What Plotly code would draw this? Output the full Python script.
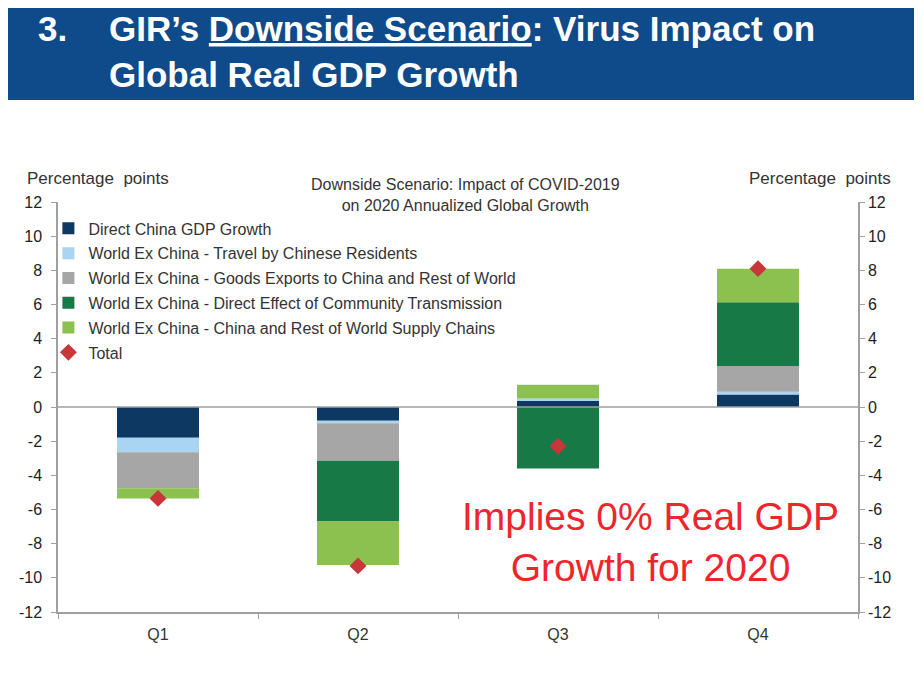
import plotly.graph_objects as go

# ---------- данные ----------
quarters = ["Q1", "Q2", "Q3", "Q4"]

direct_china = [-1.8, -0.8, 0.35, 0.73]
travel_chinese = [-0.85, -0.15, 0.15, 0.17]
goods_exports = [-2.1, -2.2, 0.0, 1.5]
community_transmission = [0.0, -3.55, -3.6, 3.73]
supply_chains = [-0.6, -2.55, 0.8, 1.97]
total = [-5.35, -9.3, -2.3, 8.1]

y_ticks = [-12, -10, -8, -6, -4, -2, 0, 2, 4, 6, 8, 10, 12]
y_tick_labels = ["-12", "-10", "-8", "-6", "-4", "-2", "0", "2", "4", "6", "8", "10", "12"]

series = [
    ("Direct China GDP Growth", direct_china, "#0c3862"),
    ("World Ex China - Travel by Chinese Residents", travel_chinese, "#a9d4f2"),
    ("World Ex China - Goods Exports to China and Rest of World", goods_exports, "#a6a6a6"),
    ("World Ex China - Direct Effect of Community Transmission", community_transmission, "#177a46"),
    ("World Ex China - China and Rest of World Supply Chains", supply_chains, "#8cc14f"),
]

FONT = "Liberation Sans, Arial, sans-serif"

fig = go.Figure()

for i, (name, vals, color) in enumerate(series):
    fig.add_trace(go.Bar(
        x=quarters, y=vals, name=name, marker_color=color,
        marker_line_width=0, legendgroup=f"g{i}",
    ))

fig.add_trace(go.Scatter(
    x=quarters, y=total, name="Total", mode="markers",
    marker=dict(symbol="diamond", size=13, color="#c8363a"),
    legendgroup="g9",
))

# невидимый след для правой оси
fig.add_trace(go.Scatter(
    x=quarters, y=total, yaxis="y2", mode="markers",
    marker=dict(opacity=0), showlegend=False, hoverinfo="skip",
))

axis_common = dict(
    range=[-12, 12], tickvals=y_ticks, ticktext=y_tick_labels,
    showgrid=False, zeroline=False,
    showline=True, linecolor="#a0a0a0", linewidth=1.5,
    ticks="outside", ticklen=5, tickcolor="#a0a0a0",
    tickfont=dict(family=FONT, size=16, color="#222"),
)

# страница рисуется со сдвигом 8px (margin у body) — поля подогнаны под это
fig.update_layout(
    width=922, height=678,
    paper_bgcolor="white", plot_bgcolor="white",
    margin=dict(l=50, r=72, t=194, b=74),
    barmode="relative", bargap=0.59,
    showlegend=True,
    legend=dict(
        x=-0.012, y=0.977, xanchor="left", yanchor="top",
        traceorder="grouped", tracegroupgap=1,
        font=dict(family=FONT, size=16, color="#333"),
        bgcolor="rgba(0,0,0,0)", itemwidth=30,
    ),
    xaxis=dict(
        showgrid=False, showline=True, linecolor="#a0a0a0", linewidth=1.5,
        ticks="outside", tickson="boundaries", ticklen=5, tickcolor="#a0a0a0",
        tickfont=dict(family=FONT, size=16, color="#333"), ticklabelstandoff=7,
    ),
    yaxis=dict(**axis_common, side="left", ticklabelstandoff=6),
    yaxis2=dict(**axis_common, side="right", overlaying="y"),
    shapes=[
        # шапка
        dict(type="rect", xref="paper", yref="paper",
             x0=-0.066, x1=1.071, y0=1.249, y1=1.493,
             fillcolor="#0f4a8a", line_width=0, layer="below"),
        # нулевая линия
        dict(type="line", xref="paper", yref="y", x0=0, x1=1, y0=0, y1=0,
             line=dict(color="#a0a0a0", width=1.5)),
    ],
)

banner_font = dict(family="Liberation Sans Narrow, Arial Narrow, Liberation Sans, sans-serif",
                   size=35, color="white")

annotations = [
    dict(text="<b>3.</b>", x=-0.028, y=1.424),
    dict(text="<b>GIR’s <u>Downside Scenario</u>: Virus Impact on</b>", x=0.061, y=1.424),
    dict(text="<b>Global Real GDP Growth</b>", x=0.061, y=1.310),
]
for a in annotations:
    fig.add_annotation(xref="paper", yref="paper", xanchor="left", yanchor="middle",
                       showarrow=False, font=banner_font, **a)

fig.add_annotation(
    text="Downside Scenario: Impact of COVID-2019<br>on 2020 Annualized Global Growth",
    xref="paper", yref="paper", x=0.509, y=1.017, xanchor="center", yanchor="middle",
    showarrow=False, font=dict(family=FONT, size=16, color="#333"),
)
fig.add_annotation(
    text="Percentage  points", xref="paper", yref="paper", x=-0.041, y=1.058,
    xanchor="left", yanchor="middle", showarrow=False,
    font=dict(family=FONT, size=17, color="#333"),
)
fig.add_annotation(
    text="Percentage  points", xref="paper", yref="paper", x=1.044, y=1.058,
    xanchor="right", yanchor="middle", showarrow=False,
    font=dict(family=FONT, size=17, color="#333"),
)
fig.add_annotation(
    text="Implies 0% Real GDP<br>Growth for 2020", xref="paper", yref="paper",
    x=0.74, y=0.17, xanchor="center", yanchor="middle", showarrow=False,
    font=dict(family=FONT, size=39, color="#f0242c"),
)

fig.write_html("out.html")
